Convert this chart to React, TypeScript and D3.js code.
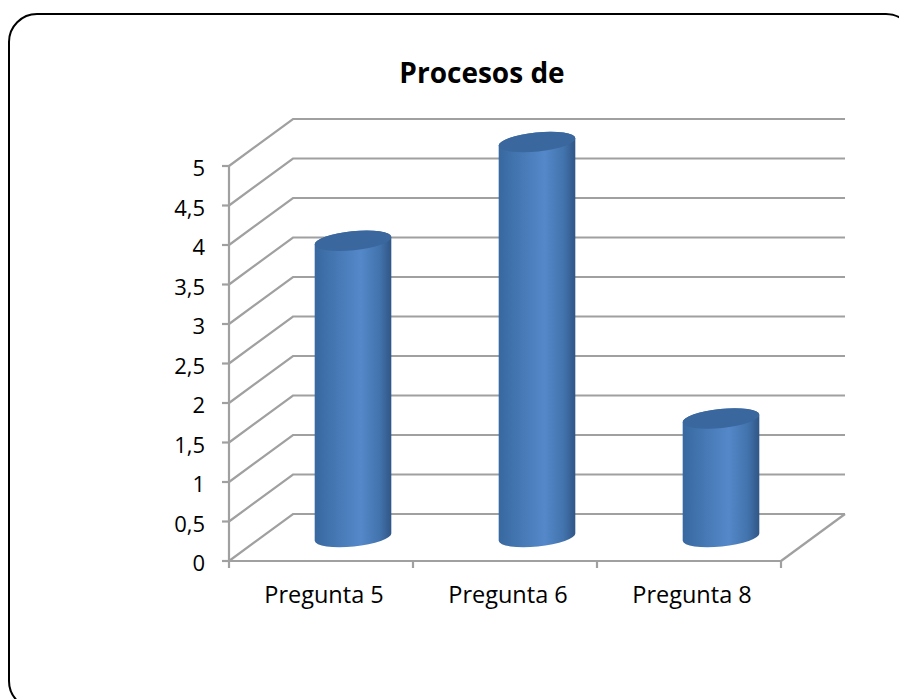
import React from "react";
import * as d3 from "d3";

const categories = ["Pregunta 5", "Pregunta 6", "Pregunta 8"];
const seriesValues = [3.75, 5, 1.5];
const tickValues = [0, 0.5, 1, 1.5, 2, 2.5, 3, 3.5, 4, 4.5, 5];
const chartTitle = "Procesos de";

const WIDTH = 899;
const HEIGHT = 699;
const FONT = "'Open Sans', 'Noto Sans', sans-serif";
const GRID = "#a0a0a0";

// Front plane of the pseudo-3D box and the depth offset to its back wall.
const x = d3.scaleBand<string>().domain(categories).range([229, 781]);
const y = d3.scaleLinear().domain([0, 5]).range([561, 166]);
const depth = { dx: 64, dy: -47 };

// Cylinders stand halfway into the floor.
const mid = { dx: 32, dy: -24 };
const barWidth = 77;
const rx = barWidth / 2;
const ry = 9.5;
const tilt = -0.1;

function tiltedPoint(cx: number, cy: number, sign: number) {
  return [cx + sign * rx * Math.cos(tilt), cy + sign * rx * Math.sin(tilt)];
}

function cylinderBody(cx: number, top: number, bottom: number) {
  const [lx, lt] = tiltedPoint(cx, top, -1);
  const [rxp, rt] = tiltedPoint(cx, top, 1);
  const [, lb] = tiltedPoint(cx, bottom, -1);
  const [, rb] = tiltedPoint(cx, bottom, 1);
  const rot = (tilt * 180) / Math.PI;
  return `M${lx},${lt}L${lx},${lb}A${rx},${ry} ${rot} 0 0 ${rxp},${rb}L${rxp},${rt}A${rx},${ry} ${rot} 0 0 ${lx},${lt}Z`;
}

export default function App() {
  const backLeft = 229 + depth.dx;
  const backRight = 781 + depth.dx;
  return (
    <svg
      width={WIDTH}
      height={HEIGHT}
      viewBox={`0 0 ${WIDTH} ${HEIGHT}`}
      style={{ position: "absolute", left: 0, top: 0, display: "block", background: "#fff" }}
    >
      <defs>
        <linearGradient id="cyl" x1="0" x2="1" y1="0" y2="0">
          <stop offset="0" stopColor="#38689f" />
          <stop offset="0.3" stopColor="#4679b5" />
          <stop offset="0.6" stopColor="#5488c9" />
          <stop offset="0.85" stopColor="#4273ad" />
          <stop offset="1" stopColor="#305686" />
        </linearGradient>
      </defs>

      <rect x={9} y={14} width={905} height={695} rx={28} ry={28} fill="#fff" stroke="#000" strokeWidth={2} />

      <text x={482} y={83} textAnchor="middle" fontFamily={FONT} fontWeight={700} fontSize={28} fill="#000">
        {chartTitle}
      </text>

      {/* Side wall lines and back wall gridlines */}
      <g fill="none" stroke={GRID} strokeWidth={2.2}>
        {tickValues.map((t) => (
          <path
            key={t}
            d={`M${x.range()[0]},${y(t)}L${backLeft},${y(t) + depth.dy}L${backRight},${y(t) + depth.dy}`}
          />
        ))}
        <path d={`M${backRight},${y(0) + depth.dy}L781,${y(0)}`} />
        <path d={`M229,${y(0)}L781,${y(0)}`} />
        <path d={`M229,${y(5)}L229,${y(0)}`} />
        {tickValues.map((t) => (
          <path key={t} d={`M222,${y(t)}L229,${y(t)}`} />
        ))}
        {[...categories.map((c) => x(c)!), 781].map((px) => (
          <path key={px} d={`M${px},${y(0)}L${px},${y(0) + 7}`} />
        ))}
      </g>

      {/* Value axis labels */}
      <g fontFamily={FONT} fontSize={22} fill="#000" textAnchor="end">
        {tickValues.map((t) => (
          <text key={t} x={205} y={y(t) + 10}>
            {String(t).replace(".", ",")}
          </text>
        ))}
      </g>

      {/* Category labels */}
      <g fontFamily={FONT} fontSize={23.5} fill="#000" textAnchor="middle">
        {categories.map((c) => (
          <text key={c} x={x(c)! + x.bandwidth() / 2 + 3} y={603}>
            {c}
          </text>
        ))}
      </g>

      {/* Cylinders */}
      {categories.map((c, i) => {
        const cx = x(c)! + x.bandwidth() / 2 + mid.dx;
        const bottom = y(0) + mid.dy;
        const top = y(seriesValues[i]) + mid.dy;
        return (
          <g key={c}>
            <path d={cylinderBody(cx, top, bottom)} fill="url(#cyl)" />
            <ellipse
              cx={cx}
              cy={top}
              rx={rx}
              ry={ry}
              transform={`rotate(${(tilt * 180) / Math.PI} ${cx} ${top})`}
              fill="#3a679d"
            />
          </g>
        );
      })}
    </svg>
  );
}
